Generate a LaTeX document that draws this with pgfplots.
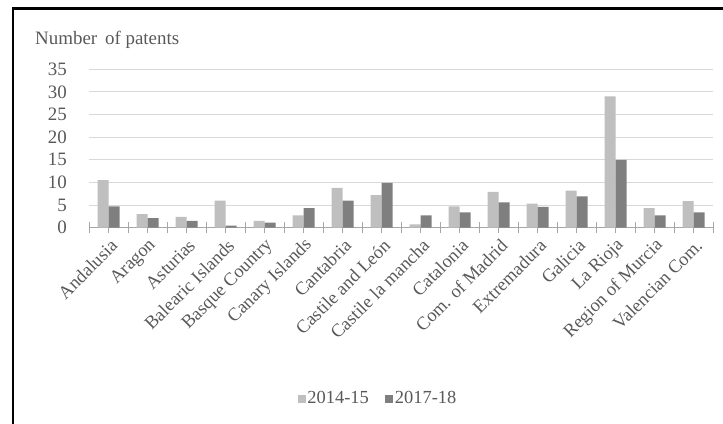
\documentclass[border=0pt]{standalone}
\usepackage{pgfplots}
\pgfplotsset{compat=1.18}
\usepackage{fontspec}
\setmainfont{Liberation Serif}
\definecolor{lightbar}{HTML}{BFBFBF}
\definecolor{darkbar}{HTML}{7F7F7F}
\definecolor{txt}{HTML}{595959}
\definecolor{gridc}{HTML}{D9D9D9}
\definecolor{axc}{HTML}{A6A6A6}
\begin{document}
\begin{tikzpicture}[x=1bp,y=1bp]
\useasboundingbox (0,0) rectangle (723,423);
\draw[line width=2.5bp] (13,-5) -- (13,414.5) -- (730,414.5);
\node[anchor=west, text=txt, inner sep=0pt, font=\fontsize{19}{22}\selectfont] at (35,383) {Number\, of patents};
\begin{axis}[
  at={(89bp,195.3bp)}, anchor=south west,
  scale only axis, width=624bp, height=158.4bp,
  xmin=0, xmax=16, ymin=0, ymax=35,
  ybar=0bp, bar width=11bp,
  axis x line*=bottom, axis y line*=left,
  y axis line style={draw=none},
  x axis line style={draw=axc, line width=1bp},
  ytick={0,5,...,35},
  ytick style={draw=none},
  ymajorgrids, grid style={draw=gridc, line width=1bp},
  yticklabel style={anchor=east, inner sep=0pt, xshift=-17bp, text=txt, font=\fontsize{19}{22}\selectfont},
  /pgf/number format/assume math mode=true,
  xtick={0.5,1.5,...,15.5},
  xticklabels={Andalusia,Aragon,Asturias,Balearic Islands,Basque Country,Canary Islands,Cantabria,Castile and León,Castile la mancha,Catalonia,Com. of Madrid,Extremadura,Galicia,La Rioja,Region of Murcia,Valencian Com.},
  xtick style={draw=axc, line width=1bp},
  tick align=outside, major tick length=5bp,
  xticklabel style={rotate=45, anchor=east, inner sep=0pt, xshift=-3bp, yshift=-11bp, text=txt, font=\fontsize{18.5}{21}\selectfont},
  extra x ticks={0,1,...,16},
  extra x tick labels={},
  extra x tick style={grid=none, tick align=center, major tick length=11bp, xtick style={draw=axc, line width=1bp}},
  legend style={at={(0.463,-1.078)}, anchor=center, draw=none, legend columns=-1, font=\fontsize{18.5}{21}\selectfont, text=txt, /tikz/every even column/.append style={column sep=14bp}, inner sep=0pt},
  legend image code/.code={\fill[#1] (0bp,-4.5bp) rectangle (8bp,3.5bp);},
  legend cell align=left,
]
\addplot[fill=lightbar, draw=none] coordinates {
(0.5,10.5) (1.5,3.0) (2.5,2.4) (3.5,6.0) (4.5,1.5) (5.5,2.7) (6.5,8.8) (7.5,7.2)
(8.5,0.75) (9.5,4.7) (10.5,7.9) (11.5,5.3) (12.5,8.2) (13.5,29.0) (14.5,4.3) (15.5,5.9)};
\addplot[fill=darkbar, draw=none] coordinates {
(0.5,4.7) (1.5,2.1) (2.5,1.5) (3.5,0.45) (4.5,1.1) (5.5,4.3) (6.5,6.0) (7.5,9.9)
(8.5,2.7) (9.5,3.4) (10.5,5.6) (11.5,4.6) (12.5,6.9) (13.5,15.0) (14.5,2.7) (15.5,3.4)};
\legend{2014-15,2017-18}
\end{axis}
\end{tikzpicture}
\end{document}
